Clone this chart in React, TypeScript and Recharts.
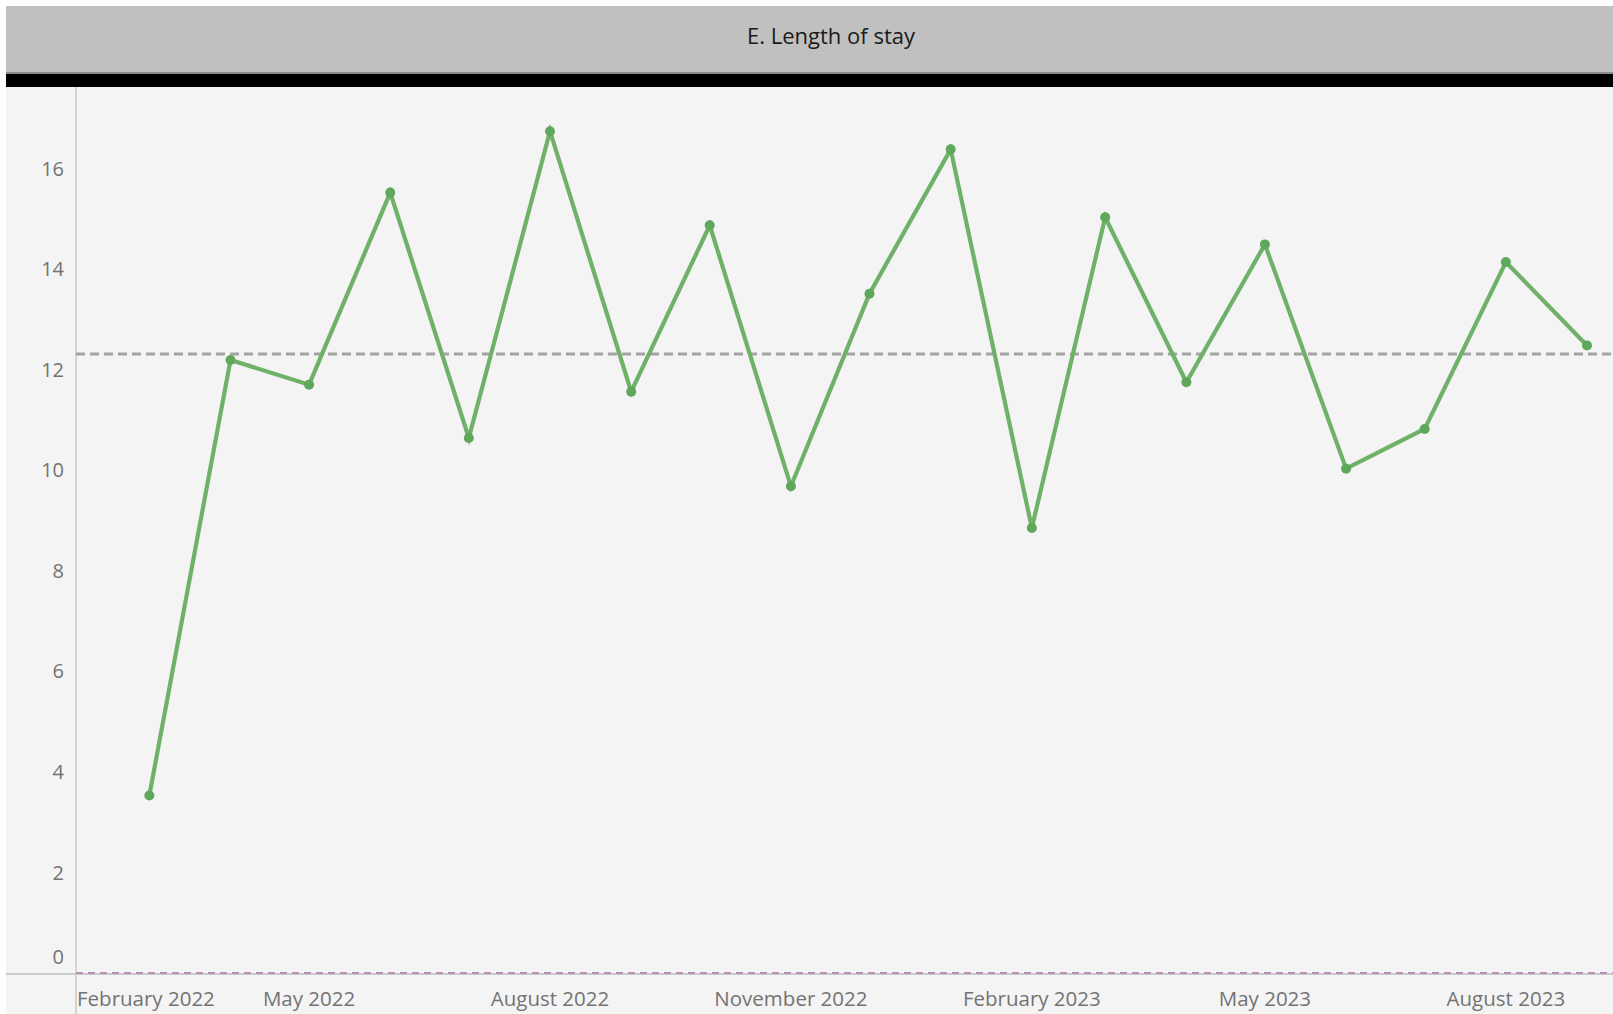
import React from 'react';
import { LineChart, Line, XAxis, YAxis, ReferenceLine } from 'recharts';

const chartTitle = 'E. Length of stay';

const months = [
  '2022-03', '2022-04', '2022-05', '2022-06', '2022-07', '2022-08', '2022-09',
  '2022-10', '2022-11', '2022-12', '2023-01', '2023-02', '2023-03', '2023-04',
  '2023-05', '2023-06', '2023-07', '2023-08', '2023-09',
];

const stayValues = [
  3.53, 12.19, 11.7, 15.52, 10.64, 16.74, 11.56,
  14.87, 9.68, 13.51, 16.38, 8.85, 15.03, 11.75,
  14.49, 10.03, 10.82, 14.14, 12.48,
];

const averageStay = 12.31;

const yTicks = [0, 2, 4, 6, 8, 10, 12, 14, 16];
const yMax = 17.62;

const xTickMonths = ['2022-02', '2022-05', '2022-08', '2022-11', '2023-02', '2023-05', '2023-08'];
const xTickLabels = ['February 2022', 'May 2022', 'August 2022', 'November 2022', 'February 2023', 'May 2023', 'August 2023'];

const xDomainStart = Date.UTC(2022, 1, 1);
const xDomainEnd = Date.UTC(2023, 8, 10, 22);

const toTs = (m: string) => {
  const [y, mo] = m.split('-').map(Number);
  return Date.UTC(y, mo - 1, 1);
};

const data = months.map((m, i) => ({ t: toTs(m), v: stayValues[i] }));
const xTicks = xTickMonths.map(toTs);

const FONT = '"Open Sans", "Noto Sans", sans-serif';
const TICK_COLOR = '#737373';

const XTick = (props: any) => {
  const { x, y, payload } = props;
  const idx = xTicks.indexOf(payload.value);
  const label = idx >= 0 ? xTickLabels[idx] : '';
  const first = idx === 0;
  return (
    <text
      x={x + (first ? 1 : 0)}
      y={y + 33}
      textAnchor={first ? 'start' : 'middle'}
      fill={TICK_COLOR}
      fontSize={20.5}
      fontFamily={FONT}
    >
      {label}
    </text>
  );
};

const YTick = (props: any) => {
  const { x, y, payload } = props;
  const shift = payload.value === 0 ? -16 : 0;
  return (
    <text
      x={x - 12}
      y={y + shift}
      dy="0.36em"
      textAnchor="end"
      fill={TICK_COLOR}
      fontSize={20}
      fontFamily={FONT}
    >
      {payload.value}
    </text>
  );
};

export default function App() {
  return (
    <div style={{ position: 'absolute', left: 0, top: 0, width: 1613, height: 1014, background: '#ffffff', overflow: 'hidden' }}>
      {/* header */}
      <div style={{ position: 'absolute', left: 6, top: 6, width: 1607, height: 66, background: '#c0c0c0' }} />
      <div style={{ position: 'absolute', left: 6, top: 72, width: 1607, height: 2, background: '#8c8c8c' }} />
      <div style={{ position: 'absolute', left: 6, top: 74, width: 1607, height: 13, background: '#000000' }} />
      <div
        style={{
          position: 'absolute', left: 6, top: 2, width: 1650, height: 66,
          display: 'flex', alignItems: 'center', justifyContent: 'center',
          fontFamily: FONT, fontSize: 22, color: '#1a1a1a',
        }}
      >
        {chartTitle}
      </div>
      {/* panel */}
      <div style={{ position: 'absolute', left: 6, top: 87, width: 1607, height: 927, background: '#f4f4f4' }} />
      <div style={{ position: 'absolute', left: 75, top: 87, width: 2, height: 927, background: '#d4d4d4' }} />
      <div style={{ position: 'absolute', left: 6, top: 973, width: 1607, height: 2, background: '#cbcbcb' }} />
      <div style={{ position: 'absolute', left: 6, top: 87 }}>
        <LineChart width={1607} height={927} data={data} margin={{ top: 0, right: 0, bottom: 0, left: 0 }}>
          <XAxis
            dataKey="t"
            type="number"
            domain={[xDomainStart, xDomainEnd]}
            ticks={xTicks}
            height={41}
            axisLine={false}
            tickLine={false}
            tickSize={0}
            tickMargin={0}
            tick={<XTick />}
            interval={0}
            allowDataOverflow
          />
          <YAxis
            type="number"
            domain={[0, yMax]}
            ticks={yTicks}
            width={70}
            axisLine={false}
            tickLine={false}
            tickSize={0}
            tickMargin={0}
            tick={<YTick />}
            interval={0}
            allowDataOverflow
          />
          <ReferenceLine y={0} stroke="#b791b7" strokeWidth={2.2} strokeDasharray="7 5" />
          <ReferenceLine y={averageStay} stroke="#a3a3a3" strokeWidth={2.8} strokeDasharray="9 5" />
          <Line
            dataKey="v"
            type="linear"
            stroke="#70b169"
            strokeWidth={4.2}
            dot={{ r: 5, fill: '#5fa75a', stroke: 'none' }}
            activeDot={false}
            isAnimationActive={false}
          />
        </LineChart>
      </div>
    </div>
  );
}
